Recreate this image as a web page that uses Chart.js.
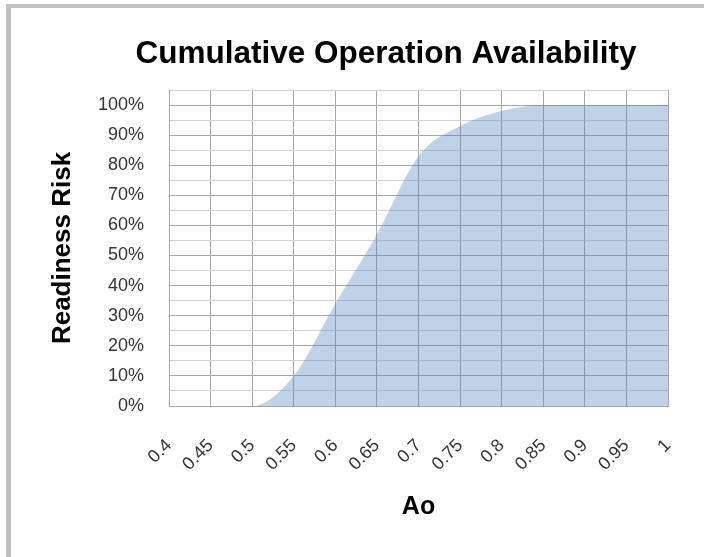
<!DOCTYPE html>
<html>
<head>
<meta charset="utf-8">
<script src="https://cdn.jsdelivr.net/npm/chart.js@4"></script>
<style>
  html, body { margin: 0; padding: 0; background: #fff; overflow: hidden; width: 704px; height: 557px; }
  #frame { position: absolute; left: 6px; top: 4px; width: 900px; height: 900px;
           border-top: 4px solid #C0C0C0; border-left: 5px solid #C0C0C0; box-sizing: border-box; }
  #c { position: absolute; left: 0; top: 0; }
</style>
</head>
<body>
<div id="frame"></div>
<canvas id="c" width="704" height="557"></canvas>
<script>
const chartTitle = 'Cumulative Operation Availability';
const xAxisTitle = 'Ao';
const yAxisTitle = 'Readiness Risk';
const categories = ['0.4', '0.45', '0.5', '0.55', '0.6', '0.65', '0.7', '0.75', '0.8', '0.85', '0.9', '0.95', '1'];
const readiness = [0, 0, 0, 0.10, 0.34, 0.57, 0.83, 0.93, 0.98, 1.0, 1.0, 1.0, 1.0];

const FONT = '"Liberation Sans", Arial, sans-serif';

const titlePlugin = {
  id: 'fixedTitle',
  afterDraw(chart) {
    const ctx = chart.ctx;
    ctx.save();
    ctx.font = 'bold 31.5px ' + FONT;
    ctx.fillStyle = '#000';
    ctx.textAlign = 'center';
    ctx.textBaseline = 'alphabetic';
    ctx.fillText(chartTitle, 386, 63);
    ctx.restore();
  }
};

new Chart(document.getElementById('c'), {
  type: 'line',
  data: {
    labels: categories,
    datasets: [{
      label: yAxisTitle,
      data: readiness,
      fill: 'origin',
      backgroundColor: 'rgba(79,129,189,0.36)',
      borderWidth: 0,
      borderColor: 'rgba(0,0,0,0)',
      pointRadius: 0,
      cubicInterpolationMode: 'monotone'
    }]
  },
  options: {
    responsive: false,
    animation: false,
    layout: { padding: { top: 90, right: 36, bottom: 0, left: 0 } },
    plugins: {
      legend: { display: false },
      tooltip: { enabled: false },
      title: { display: false }
    },
    scales: {
      x: {
        type: 'category',
        offset: false,
        afterFit(scale) { scale.height = 151; scale.paddingLeft = 0; scale.paddingRight = 0; },
        grid: { color: '#A6A6A6', lineWidth: 1, drawTicks: false, offset: false },
        border: { color: '#A6A6A6' },
        ticks: {
          autoSkip: false,
          maxRotation: 45,
          minRotation: 45,
          padding: 29,
          color: '#333',
          font: { family: FONT, size: 18 }
        },
        title: {
          display: true,
          text: xAxisTitle,
          color: '#000',
          font: { family: FONT, size: 25, weight: 'bold' },
          padding: { top: 0, bottom: 35 }
        }
      },
      y: {
        min: 0,
        max: 1.05,
        afterFit(scale) { scale.width = 169; scale.paddingTop = 0; scale.paddingBottom = 0; },
        grid: {
          drawTicks: false,
          lineWidth: 1,
          color: (ctx) => {
            const v = ctx.tick ? Math.round(ctx.tick.value * 100) : 0;
            return v % 10 === 0 ? '#A6A6A6' : '#D0D0D0';
          }
        },
        border: { color: '#A6A6A6' },
        ticks: {
          stepSize: 0.05,
          autoSkip: false,
          padding: 25,
          color: '#333',
          font: { family: FONT, size: 18 },
          callback: (v) => {
            const p = Math.round(v * 100);
            return (p % 10 === 0 && p <= 100) ? p + '%' : '';
          }
        },
        title: {
          display: true,
          text: yAxisTitle,
          color: '#000',
          font: { family: FONT, size: 26, weight: 'bold' },
          padding: { top: 47, bottom: 0 }
        }
      }
    }
  },
  plugins: [titlePlugin]
});
</script>
</body>
</html>
